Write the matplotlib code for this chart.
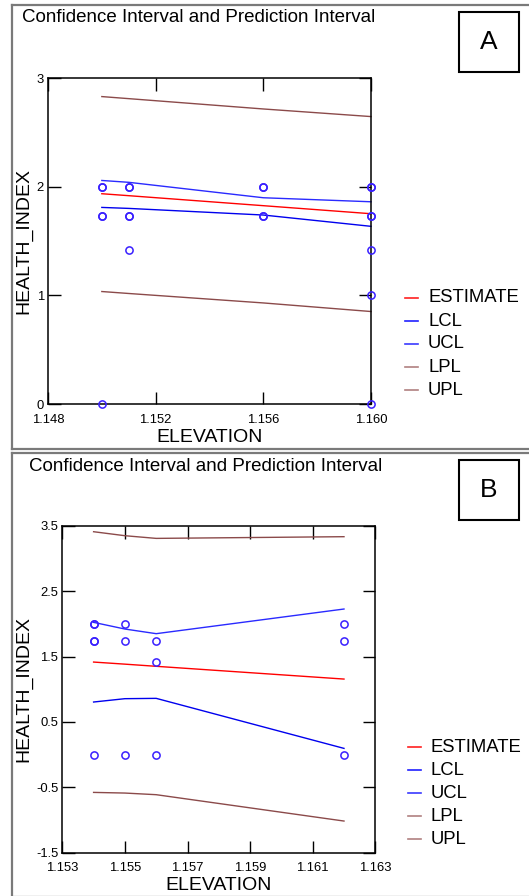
import matplotlib
matplotlib.use('Agg')
import matplotlib.pyplot as plt
from matplotlib.lines import Line2D
from matplotlib.patches import Rectangle

plt.rcParams['font.family'] = ['Liberation Sans', 'DejaVu Sans']

# ---- data, panel A ----
a_pts_x = [1.150, 1.150, 1.150, 1.150, 1.150,
           1.151, 1.151, 1.151, 1.151, 1.151,
           1.156, 1.156, 1.156, 1.156,
           1.160, 1.160, 1.160, 1.160, 1.160, 1.160, 1.160]
a_pts_y = [2.0, 2.0, 1.732, 1.732, 0.0,
           2.0, 2.0, 1.732, 1.732, 1.414,
           2.0, 2.0, 1.732, 1.732,
           2.0, 2.0, 1.732, 1.732, 1.414, 1.0, 0.0]
a_line_x = [1.150, 1.151, 1.156, 1.160]
a_estimate = [1.935, 1.917, 1.825, 1.751]
a_lcl = [1.809, 1.800, 1.739, 1.635]
a_ucl = [2.057, 2.040, 1.898, 1.861]
a_lpl = [1.035, 1.017, 0.930, 0.851]
a_upl = [2.829, 2.810, 2.715, 2.645]

# ---- data, panel B ----
b_pts_x = [1.154, 1.154, 1.154, 1.154, 1.154,
           1.155, 1.155, 1.155,
           1.156, 1.156, 1.156,
           1.162, 1.162, 1.162]
b_pts_y = [2.0, 2.0, 1.732, 1.732, 0.0,
           2.0, 1.732, 0.0,
           1.732, 1.414, 0.0,
           2.0, 1.732, 0.0]
b_line_x = [1.154, 1.155, 1.156, 1.162]
b_estimate = [1.415, 1.383, 1.350, 1.155]
b_lcl = [0.804, 0.855, 0.860, 0.095]
b_ucl = [2.022, 1.920, 1.849, 2.226]
b_lpl = [-0.578, -0.588, -0.613, -1.016]
b_upl = [3.408, 3.347, 3.306, 3.332]

series_names = ['ESTIMATE', 'LCL', 'UCL', 'LPL', 'UPL']
line_colors = ['#ff0000', '#0000ee', '#2a2aff', '#8b4a4a', '#8b4a4a']
legend_colors = ['#ff2020', '#2020ff', '#3a3aff', '#b08080', '#b08080']

W, H = 529, 896
fig = plt.figure(figsize=(W / 100, H / 100), dpi=100)


def fx(px):
    return px / W


def fy(py):
    return 1 - py / H


def panel(top, axes_box, xs, ys, line_x, lines, xlim, xticks, ylim, yticks,
          letter, title_xy, leg_xy, xlabel_y):
    # outer grey frame (left, top, bottom)
    x0, x1 = 12, W + 2
    y0, y1 = top, top + 444
    fig.add_artist(Line2D([fx(x0), fx(x0)], [fy(y0), fy(y1)], color='#7a7a7a', lw=1.6))
    fig.add_artist(Line2D([fx(x0), fx(x1)], [fy(y0), fy(y0)], color='#7a7a7a', lw=1.6))
    fig.add_artist(Line2D([fx(x0), fx(x1)], [fy(y1), fy(y1)], color='#7a7a7a', lw=1.6))

    l, t, r, b = axes_box
    ax = fig.add_axes([fx(l), fy(b), fx(r - l), (b - t) / H])
    for (name, vals), c in zip(lines, line_colors):
        ax.plot(line_x, vals, color=c, lw=1.0, clip_on=False)
    ax.plot(xs, ys, linestyle='none', marker='o', markersize=5.2, mfc='none',
            mec='#3a20ff', mew=1.1, clip_on=False, zorder=5)
    ax.set_xlim(*xlim)
    ax.set_ylim(*ylim)
    ax.set_xticks(xticks)
    ax.set_xticklabels(['%.3f' % v for v in xticks])
    ax.set_yticks(yticks)
    ax.set_yticklabels(['%g' % v for v in yticks])
    ax.tick_params(direction='in', length=9, width=1, top=True, right=True,
                   labelsize=9.4)
    ax.tick_params(axis='x', pad=7)
    ax.tick_params(axis='y', pad=3)
    for s in ax.spines.values():
        s.set_linewidth(1.1)
    ax.set_xlabel('ELEVATION', fontsize=14, labelpad=0)
    ax.xaxis.set_label_coords(0.5, -(xlabel_y - b) / (b - t))
    ax.xaxis.label.set_va('center')
    ax.set_ylabel('HEALTH_INDEX', fontsize=14)
    ax.yaxis.set_label_coords(-(l - 24) / (r - l), 0.5)
    ax.yaxis.label.set_va('center')

    fig.text(fx(title_xy[0]), fy(title_xy[1]),
             'Confidence Interval and Prediction Interval',
             fontsize=13.5, va='center', ha='left')

    # letter box
    fig.add_artist(Rectangle((fx(459), fy(top + 67)), fx(60), 60 / H,
                             fill=False, ec='black', lw=1.5))
    fig.text(fx(489), fy(top + 37), letter, fontsize=19, ha='center', va='center')

    # legend drawn by hand
    lx, ly = leg_xy
    for i, (name, c) in enumerate(zip(series_names, legend_colors)):
        yy = ly + i * 23
        fig.add_artist(Line2D([fx(lx), fx(lx + 13)], [fy(yy), fy(yy)], color=c, lw=1.2))
        fig.text(fx(lx + 23), fy(yy), name, fontsize=13.3, va='center', ha='left')
    return ax


panel(5, (48, 78, 371, 404), a_pts_x, a_pts_y, a_line_x,
      list(zip(series_names, [a_estimate, a_lcl, a_ucl, a_lpl, a_upl])),
      (1.148, 1.160), [1.148, 1.152, 1.156, 1.160], (0, 3), [0, 1, 2, 3],
      'A', (22, 18), (405, 298), 437.5)

panel(453, (62.3, 525.7, 375.3, 852.7), b_pts_x, b_pts_y, b_line_x,
      list(zip(series_names, [b_estimate, b_lcl, b_ucl, b_lpl, b_upl])),
      (1.153, 1.163), [1.153, 1.155, 1.157, 1.159, 1.161, 1.163], (-1.5, 3.5),
      [-1.5, -0.5, 0.5, 1.5, 2.5, 3.5],
      'B', (29, 466), (408, 747), 885)

fig.savefig('out.png', dpi=100)
